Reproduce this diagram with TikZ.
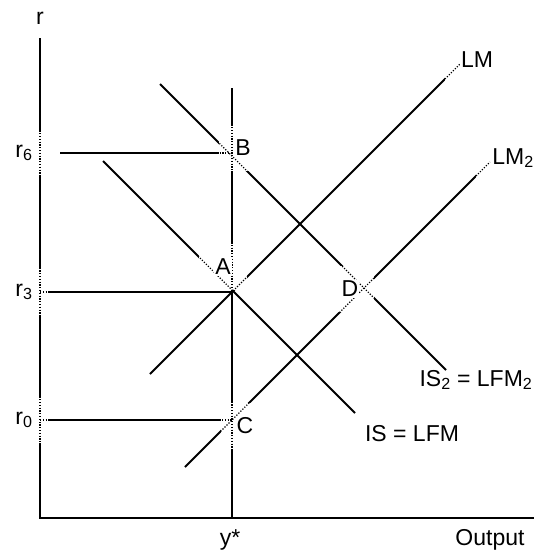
\documentclass[tikz,border=0pt]{standalone}
\usepackage{fontspec}
\setmainfont{Liberation Sans}
\begin{document}
\begin{tikzpicture}[x=1pt,y=-1pt,
  axisln/.style={line width=2.6pt},
  curveln/.style={line width=2pt},
  dotln/.style={line width=1.1pt, dash pattern=on 1.2pt off 1.6pt},
  lab/.style={font=\fontsize{23}{27}\selectfont, inner sep=1pt},
  labbox/.style={fill=white, minimum height=46pt, inner xsep=16pt, font=\fontsize{23}{27}\selectfont}]
\useasboundingbox (0,0) rectangle (534,552);
\coordinate (yTop) at (40,38);
\coordinate (O) at (40,518);
\coordinate (xEnd) at (534,518);
\coordinate (vTop) at (232,88);
\coordinate (vBot) at (232,518);
\coordinate (A0) at (232,292);
\coordinate (r6s) at (60,153);
\coordinate (r6e) at (232,153);
\coordinate (r3s) at (40,292);
\coordinate (r0s) at (40,420);
\coordinate (r0e) at (232,420);
\coordinate (LMa) at (150,374);
\coordinate (LMb) at (462,62);
\coordinate (LMtwoa) at (185,467);
\coordinate (LMtwob) at (490,162);
\coordinate (ISa) at (103,161);
\coordinate (ISb) at (355,413);
\coordinate (IStwoa) at (160,84);
\coordinate (IStwob) at (446,370);
\newcommand\curvelines[2]{%
  \draw[#1] (yTop) -- (O) -- (xEnd);
  \draw[#2] (vTop) -- (vBot);
  \draw[#2] (r6s) -- (r6e);
  \draw[#2] (r3s) -- (A0);
  \draw[#2] (r0s) -- (r0e);
  \draw[#2] (LMa) -- (LMb);
  \draw[#2] (LMtwoa) -- (LMtwob);
  \draw[#2] (ISa) -- (ISb);
  \draw[#2] (IStwoa) -- (IStwob);}
% solid lines
\curvelines{axisln}{curveln}
% label boxes
\foreach \nm/\px/\py/\tx in {
  lr6/24/153/{r\textsubscript{6}},
  lr3/24/292/{r\textsubscript{3}},
  lr0/24/420/{r\textsubscript{0}},
  lB/243/148/{B},
  lA/223/267/{A},
  lD/350/289/{D},
  lC/245/426/{C},
  lLM/477/60/{LM},
  lLMtwo/513/158/{LM\textsubscript{2}}}{
  \node[labbox] (\nm) at (\px,\py) {\phantom{\tx}};
  \begin{scope}
    \clip (\nm.south west) rectangle (\nm.north east);
    \curvelines{dotln}{dotln}
  \end{scope}
  \node[lab, fill=white] (t\nm) at (\px,\py) {\tx};
}
\node[lab] (lr) at (40,18) {r};
\node[lab] (lIS) at (412,434) {IS = LFM};
\node[lab] (lIStwo) at (476,380) {IS\textsubscript{2} = LFM\textsubscript{2}};
\node[lab] (ly) at (230,540) {y*};
\node[lab] (lout) at (490,540) {Output};
\end{tikzpicture}
\end{document}
